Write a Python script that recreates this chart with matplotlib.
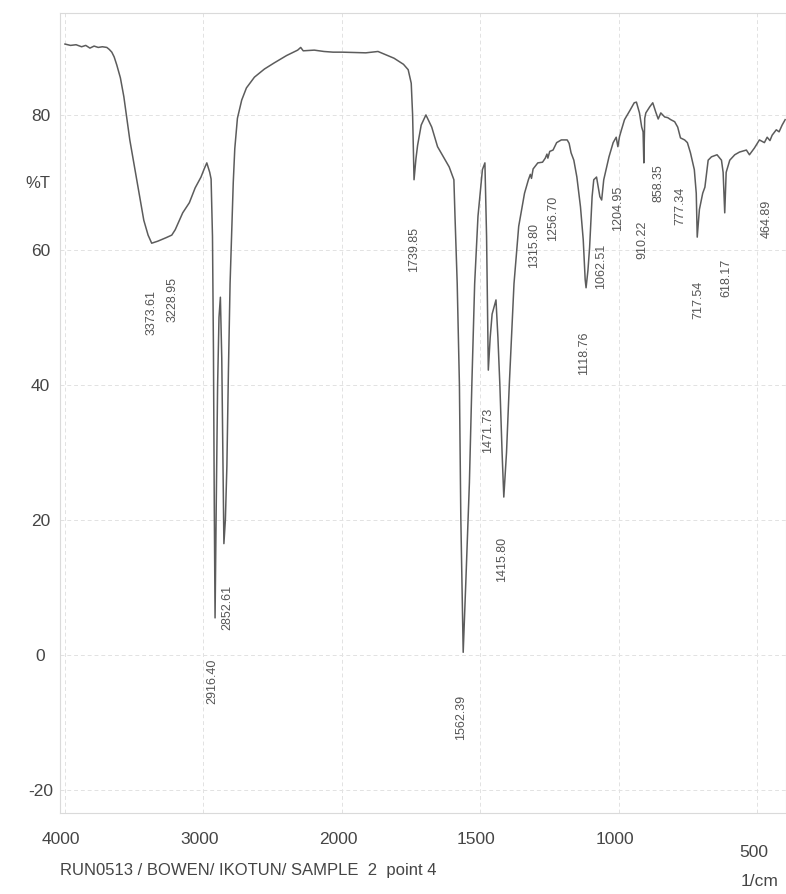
import numpy as np
import matplotlib.pyplot as plt
from matplotlib.transforms import ScaledTranslation

# spectrum (wavenumber in 1/cm, %T)
wavenumber = [
    4000, 3960, 3920, 3880, 3850, 3820, 3790, 3760, 3730, 3698, 3680, 3662, 3645, 3626, 3600,
    3575, 3532, 3482, 3431, 3400, 3374, 3330, 3272, 3229, 3204, 3150, 3102, 3060, 3018, 2995,
    2976, 2955, 2945, 2935, 2928, 2922, 2916.4, 2908, 2898, 2888, 2878, 2868, 2860, 2852.6,
    2842, 2831, 2820, 2808, 2796, 2785, 2774, 2755, 2724, 2690, 2632, 2560, 2490, 2400, 2320,
    2298, 2280, 2200, 2130, 2064, 2000, 1914, 1870, 1812, 1778, 1761, 1750, 1745, 1739.85,
    1733, 1727, 1714, 1697, 1676, 1655, 1634, 1613, 1596, 1592, 1584, 1576, 1571, 1562.4,
    1553, 1540, 1531, 1521, 1509, 1493, 1484, 1478, 1471.7, 1465, 1458, 1444, 1437, 1430,
    1422, 1415.8, 1406, 1396, 1379, 1362, 1341, 1327, 1320, 1315.8, 1310, 1293, 1276, 1266,
    1260, 1256.7, 1250, 1238, 1225, 1208, 1187, 1180, 1173, 1163, 1152, 1139, 1129, 1122,
    1118.8, 1112, 1106, 1097, 1091, 1081, 1075, 1069, 1062.5, 1055, 1036, 1021, 1010, 1004,
    998, 991, 980, 960, 945, 937, 926, 918, 913, 910.2, 907, 903, 889, 878, 867, 858.4, 849,
    835, 824, 813, 799, 788, 778, 763, 753, 742, 728, 721, 717.5, 709.6, 697.7, 689.8, 678,
    666, 646, 630, 624, 618.2, 613, 600, 582, 565, 540, 529, 511, 493, 475, 465, 455, 447,
    432, 422, 411, 400,
]
transmittance = [
    90.5, 90.3, 90.4, 90.1, 90.3, 89.9, 90.2, 90.0, 90.1, 90.0, 89.7, 89.3, 88.6, 87.4, 85.5,
    82.7, 76.3, 70.4, 64.4, 62.2, 61.0, 61.3, 61.8, 62.2, 63.0, 65.5, 67.0, 69.2, 70.8, 72.0,
    72.9, 71.5, 70.5, 62.0, 45.0, 22.0, 5.5, 22.0, 40.0, 50.0, 53.0, 44.0, 30.0, 16.5,
    20.0, 28.0, 42.0, 55.0, 63.0, 70.0, 75.0, 79.5, 82.2, 84.0, 85.6, 86.8, 87.7, 88.8, 89.6,
    90.0, 89.5, 89.6, 89.4, 89.3, 89.3, 89.2, 89.4, 88.4, 87.5, 86.7, 84.7, 80.0, 70.4,
    73.5, 75.5, 78.5, 80.0, 78.2, 75.3, 73.8, 72.3, 70.4, 65.0, 55.0, 40.0, 20.4, 0.4,
    10.7, 25.5, 40.3, 55.0, 65.0, 71.9, 72.9, 62.0, 42.2, 47.0, 50.5, 52.6, 47.0, 40.0,
    30.0, 23.4, 30.0, 40.0, 55.0, 63.5, 68.4, 70.4, 71.2, 70.6, 72.0, 72.9, 73.0, 73.6,
    74.2, 73.6, 74.6, 74.8, 75.9, 76.3, 76.3, 75.8, 74.4, 73.3, 70.8, 66.4, 61.5, 55.6,
    54.4, 57.0, 60.4, 67.9, 70.4, 70.8, 69.3, 67.9, 67.4, 70.4, 73.8, 75.9, 76.7, 75.3,
    76.8, 77.8, 79.3, 80.7, 81.8, 81.9, 80.3, 78.2, 77.5, 72.9, 79.5, 80.3, 81.2, 81.8, 80.4, 79.4, 80.3,
    79.7, 79.6, 79.3, 79.0, 78.2, 76.6, 76.3, 75.9, 74.4, 71.9, 68.4, 61.9, 66.0, 68.4, 69.3, 73.3,
    73.8, 74.1, 73.3, 71.5, 65.5, 71.5, 73.3, 74.1, 74.5, 74.8, 74.1, 75.1, 76.3, 75.9, 76.7, 76.2, 77.0,
    77.8, 77.5, 78.5, 79.3,
]

# printed peak labels and where they sit on the chart
peak_labels = ["3373.61", "3228.95", "2916.40", "2852.61", "1739.85", "1562.39", "1471.73",
               "1415.80", "1315.80", "1256.70", "1118.76", "1062.51", "1204.95", "910.22",
               "858.35", "777.34", "717.54", "618.17", "464.89"]
label_wn = [3374, 3221, 2933, 2831, 1740, 1571, 1472, 1421, 1307, 1238, 1126, 1066, 1004,
            914, 857, 778, 714, 611, 465]
label_T = [50.8, 52.7, -3.9, 7.1, 60.1, -9.3, 33.3, 14.2, 60.7, 64.7, 44.7, 57.5, 66.1,
           61.5, 69.9, 66.5, 52.6, 55.9, 64.6]

x_ticks = [4000, 3000, 2000, 1500, 1000, 500]
y_ticks = [80, 60, 40, 20, 0, -20]


# the chart doubles its scale below 2000 1/cm
def forward(w):
    w = np.asarray(w, dtype=float)
    return np.where(w >= 2000, w, 2 * w - 2000)


def inverse(u):
    u = np.asarray(u, dtype=float)
    return np.where(u >= 2000, u, (u + 2000) / 2)


plt.rcParams['font.family'] = ['Liberation Sans', 'DejaVu Sans']
txt = '#454545'

fig = plt.figure(figsize=(7.86, 8.94), dpi=100)
ax = fig.add_axes([60 / 786, 81 / 894, 726 / 786, 800 / 894])
ax.set_xscale('function', functions=(forward, inverse))
ax.set_xlim(4036, 397)
ax.set_ylim(-23.4, 95.1)

ax.plot(wavenumber, transmittance, color='#5c5c5c', lw=1.1)

for lab, w, t in zip(peak_labels, label_wn, label_T):
    ax.text(w, t, lab, rotation=90, ha='center', va='center', fontsize=9, color='#555555')

ax.set_xticks(x_ticks)
ax.set_xticklabels([str(v) for v in x_ticks])
ax.set_yticks(y_ticks)
ax.set_yticklabels([str(v) for v in y_ticks])
ax.tick_params(axis='both', length=0, labelsize=12.5, labelcolor=txt)
ax.tick_params(axis='x', pad=14)
ax.tick_params(axis='y', pad=14)
for lab in ax.get_yticklabels():
    lab.set_horizontalalignment('center')
for v, lab in zip(x_ticks, ax.get_xticklabels()):
    dy = -13 if v == 500 else 0
    lab.set_transform(lab.get_transform() + ScaledTranslation(-4 / 100, dy / 100, fig.dpi_scale_trans))

ax.grid(True, color='#e2e2e2', lw=0.7, ls=(0, (4, 3)))
for s in ax.spines.values():
    s.set_color('#dadada')
    s.set_linewidth(0.8)

fig.text(38 / 786, 1 - 183 / 894, '%T', ha='center', va='center', fontsize=12, color=txt)
fig.text(60 / 786, 1 - 871 / 894, 'RUN0513 / BOWEN/ IKOTUN/ SAMPLE  2  point 4',
         ha='left', va='center', fontsize=12, color=txt)
fig.text(778 / 786, 1 - 881 / 894, '1/cm', ha='right', va='center', fontsize=12.5, color=txt)

fig.savefig('out.png', dpi=100)
